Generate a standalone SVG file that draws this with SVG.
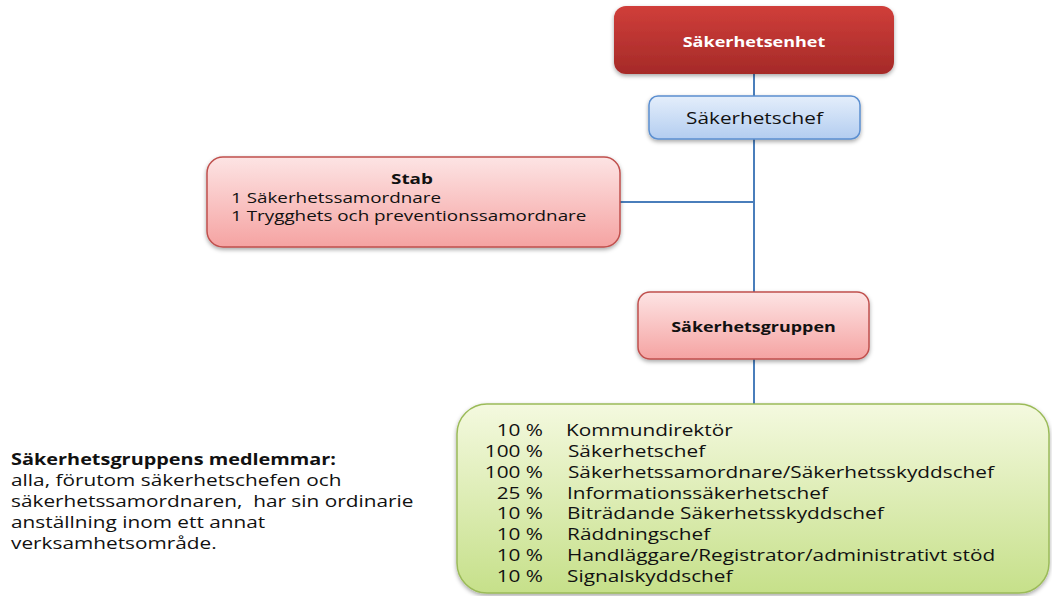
<svg xmlns="http://www.w3.org/2000/svg" width="1052" height="596" viewBox="0 0 1052 596">
<defs>
<linearGradient id="gRed" x1="0" y1="0" x2="0" y2="1"><stop offset="0" stop-color="#d03e3a"/><stop offset="1" stop-color="#a52a28"/></linearGradient>
<linearGradient id="gBlue" x1="0" y1="0" x2="0" y2="1"><stop offset="0" stop-color="#e4eefb"/><stop offset="1" stop-color="#b3cdf0"/></linearGradient>
<linearGradient id="gPink" x1="0" y1="0" x2="0" y2="1"><stop offset="0" stop-color="#fde4e4"/><stop offset="1" stop-color="#f5a3a2"/></linearGradient>
<linearGradient id="gGreen" x1="0" y1="0" x2="0" y2="1"><stop offset="0" stop-color="#f4f9df"/><stop offset="1" stop-color="#c6e08a"/></linearGradient>
<filter id="sh" x="-10%" y="-10%" width="120%" height="130%"><feDropShadow dx="0" dy="2" stdDeviation="2" flood-color="#000" flood-opacity="0.35"/></filter>
</defs>
<style>
text{font-family:"Open Sans","Liberation Sans",sans-serif;fill:#111}
.b{font-weight:bold}
.conn line{stroke:#4a7ebb;stroke-width:2}
</style>
<rect width="1052" height="596" fill="#fff"/>
<g class="conn">
<line x1="754" y1="74" x2="754" y2="96"/>
<line x1="754" y1="139" x2="754" y2="292"/>
<line x1="620" y1="202" x2="754" y2="202"/>
<line x1="754" y1="359" x2="754" y2="405"/>
</g>
<g id="sakerhetsenhet">
<rect x="614" y="6" width="280" height="68" rx="12" fill="url(#gRed)" filter="url(#sh)"/>
<text transform="translate(754,47) scale(1.2,1)" text-anchor="middle" class="b" font-size="15" style="fill:#fff">Säkerhetsenhet</text>
</g>
<g id="sakerhetschef">
<rect x="649" y="96" width="211" height="43" rx="9" fill="url(#gBlue)" stroke="#5b8fd0" stroke-width="1.5" filter="url(#sh)"/>
<text transform="translate(754.5,124) scale(1.22,1)" text-anchor="middle" font-size="17">Säkerhetschef</text>
</g>
<g id="stab">
<rect x="207" y="157" width="413" height="90" rx="16" fill="url(#gPink)" stroke="#c0504d" stroke-width="1.5" filter="url(#sh)"/>
<g transform="scale(1.3,1)" font-size="14.5">
<text x="316.9" y="184" text-anchor="middle" class="b">Stab</text>
<text x="177.7" y="203">1 Säkerhetssamordnare</text>
<text x="177.7" y="221">1 Trygghets och preventionssamordnare</text>
</g>
</g>
<g id="sakerhetsgruppen">
<rect x="638" y="292" width="231" height="67" rx="12" fill="url(#gPink)" stroke="#c0504d" stroke-width="1.5" filter="url(#sh)"/>
<text transform="translate(753.5,332) scale(1.28,1)" text-anchor="middle" class="b" font-size="14">Säkerhetsgruppen</text>
</g>
<g id="medlemmar">
<rect x="457" y="404" width="592" height="189" rx="30" fill="url(#gGreen)" stroke="#9bbb59" stroke-width="1.5" filter="url(#sh)"/>
<g transform="scale(1.3,1)" font-size="16">
<text x="417.7" y="436" text-anchor="end">10 %</text><text x="435.4" y="436">Kommundirektör</text>
<text x="417.7" y="457" text-anchor="end">100 %</text><text x="436.9" y="457">Säkerhetschef</text>
<text x="417.7" y="478" text-anchor="end">100 %</text><text x="436.9" y="478">Säkerhetssamordnare/Säkerhetsskyddschef</text>
<text x="417.7" y="499" text-anchor="end">25 %</text><text x="436.2" y="499">Informationssäkerhetschef</text>
<text x="417.7" y="519" text-anchor="end">10 %</text><text x="436.2" y="519">Biträdande Säkerhetsskyddschef</text>
<text x="417.7" y="540" text-anchor="end">10 %</text><text x="436.2" y="540">Räddningschef</text>
<text x="417.7" y="561" text-anchor="end">10 %</text><text x="436.2" y="561">Handläggare/Registrator/administrativt stöd</text>
<text x="417.7" y="582" text-anchor="end">10 %</text><text x="436.2" y="582">Signalskyddschef</text>
</g>
</g>
<g id="note" transform="scale(1.3,1)" font-size="16">
<text x="8.5" y="465" class="b" textLength="250" lengthAdjust="spacingAndGlyphs">Säkerhetsgruppens medlemmar:</text>
<text x="8.5" y="486">alla, förutom säkerhetschefen och</text>
<text x="8.5" y="507" xml:space="preserve">säkerhetssamordnaren,  har sin ordinarie</text>
<text x="8.5" y="528">anställning inom ett annat</text>
<text x="8.5" y="549">verksamhetsområde.</text>
</g>
</svg>
